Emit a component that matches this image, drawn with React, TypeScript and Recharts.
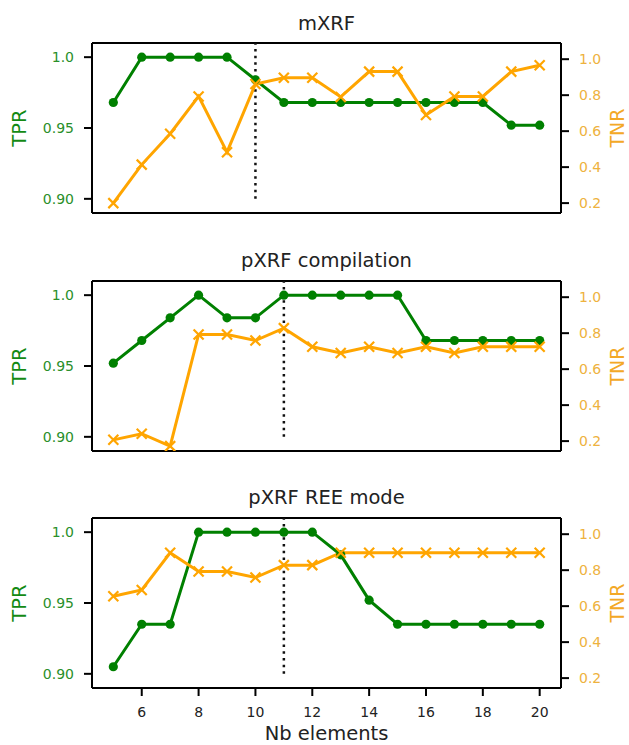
import React from 'react';
import { LineChart, Line, XAxis, YAxis, ReferenceLine } from 'recharts';

const nbElements = [5, 6, 7, 8, 9, 10, 11, 12, 13, 14, 15, 16, 17, 18, 19, 20];

const mxrfTPR = [0.968, 1, 1, 1, 1, 0.984, 0.968, 0.968, 0.968, 0.968, 0.968, 0.968, 0.968, 0.968, 0.952, 0.952];
const mxrfTNR = [0.2, 0.414, 0.586, 0.793, 0.483, 0.862, 0.897, 0.897, 0.79, 0.931, 0.931, 0.69, 0.793, 0.793, 0.931, 0.966];

const pxrfTPR = [0.952, 0.968, 0.984, 1, 0.984, 0.984, 1, 1, 1, 1, 1, 0.968, 0.968, 0.968, 0.968, 0.968];
const pxrfTNR = [0.207, 0.241, 0.172, 0.793, 0.793, 0.759, 0.828, 0.724, 0.69, 0.724, 0.69, 0.724, 0.69, 0.724, 0.724, 0.724];

const reeTPR = [0.905, 0.935, 0.935, 1, 1, 1, 1, 1, 0.984, 0.952, 0.935, 0.935, 0.935, 0.935, 0.935, 0.935];
const reeTNR = [0.655, 0.69, 0.897, 0.793, 0.793, 0.759, 0.828, 0.828, 0.897, 0.897, 0.897, 0.897, 0.897, 0.897, 0.897, 0.897];

const panelTitles = ['mXRF', 'pXRF compilation', 'pXRF REE mode'];
const splitAt = [10, 11, 11];

const xTicks = [6, 8, 10, 12, 14, 16, 18, 20];
const tprTicks = [0.9, 0.95, 1.0];
const tprTickLabels = ['0.90', '0.95', '1.0'];
const tnrTicks = [0.2, 0.4, 0.6, 0.8, 1.0];
const tnrTickLabels = ['0.2', '0.4', '0.6', '0.8', '1.0'];

const seriesTPR = [mxrfTPR, pxrfTPR, reeTPR];
const seriesTNR = [mxrfTNR, pxrfTNR, reeTNR];

const FONT = 'DejaVu Sans';
const GREEN = '#008000';
const ORANGE = '#FFA500';
const W = 629;
const PLOT_H = 170;
const MT = 6;
const panelTops = [43, 280.5, 517.5];
const TPR_DOMAIN: [number, number] = [0.89, 1.01];
const TNR_DOMAIN: [number, number] = [0.145, 1.09];
const X_DOMAIN: [number, number] = [4.25, 20.75];

const XMark = (props: any) => {
  const { cx, cy, index } = props;
  if (cx == null || cy == null) return <g key={`xm-${index}`} />;
  const s = 5;
  return (
    <g key={`xm-${index}`}>
      <line x1={cx - s} y1={cy - s} x2={cx + s} y2={cy + s} stroke={ORANGE} strokeWidth={2.2} />
      <line x1={cx - s} y1={cy + s} x2={cx + s} y2={cy - s} stroke={ORANGE} strokeWidth={2.2} />
    </g>
  );
};

const Panel = ({ idx }: { idx: number }) => {
  const isLast = idx === 2;
  const xh = isLast ? 745 - (panelTops[idx] + PLOT_H) : 10;
  const H = MT + PLOT_H + xh;
  const data = nbElements.map((n, i) => ({ x: n, tpr: seriesTPR[idx][i], tnr: seriesTNR[idx][i] }));
  const tprFmt = (v: number) => {
    const k = tprTicks.findIndex((t) => Math.abs(t - v) < 1e-9);
    return k >= 0 ? tprTickLabels[k] : String(v);
  };
  const tnrFmt = (v: number) => {
    const k = tnrTicks.findIndex((t) => Math.abs(t - v) < 1e-9);
    return k >= 0 ? tnrTickLabels[k] : String(v);
  };
  return (
    <div style={{ position: 'absolute', left: 0, top: panelTops[idx] - MT }}>
      <LineChart width={W} height={H} data={data} margin={{ top: MT, right: 0, bottom: 0, left: 0 }}>
        <XAxis
          dataKey="x"
          type="number"
          domain={X_DOMAIN}
          allowDataOverflow
          ticks={xTicks}
          interval={0}
          height={xh}
          tickSize={8}
          tickMargin={11}
          axisLine={{ stroke: '#000', strokeWidth: 2 }}
          tickLine={{ stroke: '#000', strokeWidth: 2 }}
          tick={isLast ? { fontSize: 14, fill: '#222', fontFamily: FONT } : false}
          label={
            isLast
              ? (p: any) => {
                  const vb = p.viewBox || {};
                  const cx = (vb.x ?? 92) + (vb.width ?? 469) / 2;
                  const by = (vb.y ?? MT + PLOT_H) + (vb.height ?? xh) - 5.5;
                  return (
                    <text x={cx} y={by} textAnchor="middle" fontSize={19.5} fontFamily={FONT} fill="#222">
                      Nb elements
                    </text>
                  );
                }
              : undefined
          }
        />
        <YAxis
          yAxisId="tpr"
          orientation="left"
          width={92}
          domain={TPR_DOMAIN}
          allowDataOverflow
          ticks={tprTicks}
          interval={0}
          tickFormatter={tprFmt}
          tickSize={8}
          tickMargin={10}
          axisLine={{ stroke: '#000', strokeWidth: 2 }}
          tickLine={{ stroke: '#000', strokeWidth: 2 }}
          tick={{ fontSize: 14, fill: '#2a8f2a', fontFamily: FONT }}
          label={(p: any) => {
            const vb = p.viewBox || {};
            const cy = (vb.y ?? MT) + (vb.height ?? PLOT_H) / 2;
            const bx = 26;
            return (
              <text x={bx} y={cy} transform={`rotate(-90 ${bx} ${cy})`} textAnchor="middle" fontSize={19.5} fontFamily={FONT} fill="#138a13">
                TPR
              </text>
            );
          }}
        />
        <YAxis
          yAxisId="tnr"
          orientation="right"
          width={68}
          domain={TNR_DOMAIN}
          allowDataOverflow
          ticks={tnrTicks}
          interval={0}
          tickFormatter={tnrFmt}
          tickSize={8}
          tickMargin={10}
          axisLine={{ stroke: '#000', strokeWidth: 2 }}
          tickLine={{ stroke: '#000', strokeWidth: 2 }}
          tick={{ fontSize: 14, fill: '#eeb23e', fontFamily: FONT }}
          label={(p: any) => {
            const vb = p.viewBox || {};
            const cy = (vb.y ?? MT) + (vb.height ?? PLOT_H) / 2;
            const bx = 624;
            return (
              <text x={bx} y={cy} transform={`rotate(-90 ${bx} ${cy})`} textAnchor="middle" fontSize={19} fontFamily={FONT} fill="#f3a826">
                TNR
              </text>
            );
          }}
        />
        <ReferenceLine yAxisId="tpr" y={TPR_DOMAIN[1]} stroke="#000" strokeWidth={2} ifOverflow="extendDomain" />
        <ReferenceLine
          yAxisId="tpr"
          segment={[
            { x: splitAt[idx], y: 0.9 },
            { x: splitAt[idx], y: TPR_DOMAIN[1] },
          ]}
          stroke="#111"
          strokeWidth={2.5}
          strokeDasharray="2.5 4.2"
        />
        <Line
          yAxisId="tpr"
          dataKey="tpr"
          stroke={GREEN}
          strokeWidth={3}
          dot={{ r: 4.6, fill: GREEN, stroke: GREEN, strokeWidth: 0 }}
          activeDot={false}
          isAnimationActive={false}
        />
        <Line
          yAxisId="tnr"
          dataKey="tnr"
          stroke={ORANGE}
          strokeWidth={3}
          dot={(p: any) => <XMark key={`xm-${p.index}`} {...p} />}
          activeDot={false}
          isAnimationActive={false}
        />
      </LineChart>
    </div>
  );
};

export default function App() {
  return (
    <div style={{ position: 'absolute', left: 0, top: 0, width: W, height: 745, overflow: 'hidden', background: '#fff' }}>
      {panelTitles.map((_, i) => (
        <Panel key={i} idx={i} />
      ))}
      <svg width={W} height={745} style={{ position: 'absolute', left: 0, top: 0, pointerEvents: 'none' }}>
        {panelTitles.map((t, i) => (
          <text key={t} x={326.5} y={panelTops[i] - 13.5} textAnchor="middle" fontSize={19.5} fontFamily={FONT} fill="#222">
            {t}
          </text>
        ))}
      </svg>
    </div>
  );
}
